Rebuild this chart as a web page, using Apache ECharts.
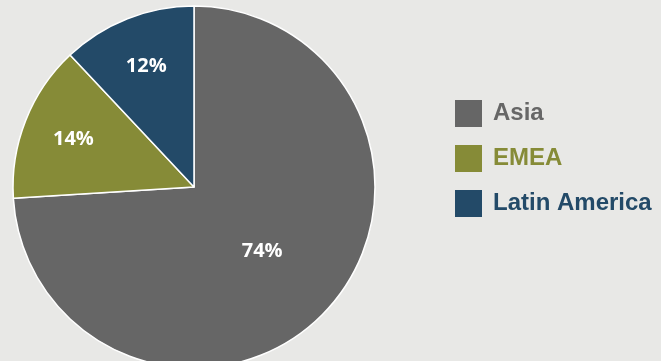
<!DOCTYPE html>
<html><head><meta charset="utf-8">
<script src="https://cdn.jsdelivr.net/npm/echarts@6/dist/echarts.min.js"></script>
<style>html,body{margin:0;padding:0;background:#e8e8e6;}#c{width:661px;height:361px;}</style>
</head><body><div id="c"></div>
<script>
const categories = ['Asia', 'EMEA', 'Latin America'];
const values = [74, 14, 12];
const colors = ['#666666', '#868b37', '#234a68'];
const labelFont = '"Open Sans", "Noto Sans", sans-serif';

const chart = echarts.init(document.getElementById('c'));
const R = 181;
const pieData = categories.map((n, i) => ({name: n, value: values[i], itemStyle: {color: colors[i]}}));
chart.setOption({
  backgroundColor: '#e8e8e6',
  animation: false,
  legend: {
    orient: 'vertical', left: 450, top: 95,
    itemWidth: 27, itemHeight: 27, itemGap: 18,
    icon: 'rect',
    itemStyle: {borderWidth: 0},
    textStyle: {fontFamily: '"Liberation Sans", Arial, sans-serif', fontWeight: 'bold', fontSize: 24, padding: [0, 0, 0, 6]},
    data: categories.map((n, i) => ({name: n, textStyle: {color: colors[i]}}))
  },
  series: [
    {
      type: 'pie', center: [194, 187], radius: [0, R], startAngle: 90, clockwise: true,
      itemStyle: {borderColor: '#ffffff', borderWidth: 1.5},
      label: {show: true, position: 'inside', color: '#fff', fontWeight: 'bold', fontSize: 20, fontFamily: labelFont,
        formatter: p => p.dataIndex === 0 ? Math.round(p.percent) + '%' : ''},
      labelLine: {show: false},
      data: pieData
    },
    {
      type: 'pie', center: [194, 187], radius: [R * 0.4, R], startAngle: 90, clockwise: true,
      silent: true, legendHoverLink: false,
      itemStyle: {color: 'rgba(0,0,0,0)', borderWidth: 0},
      label: {show: true, position: 'inside', color: '#fff', fontWeight: 'bold', fontSize: 20, fontFamily: labelFont,
        formatter: p => p.dataIndex === 0 ? '' : Math.round(p.percent) + '%'},
      labelLine: {show: false},
      data: categories.map((n, i) => ({name: n + ' ', value: values[i]}))
    }
  ]
});
</script></body></html>
